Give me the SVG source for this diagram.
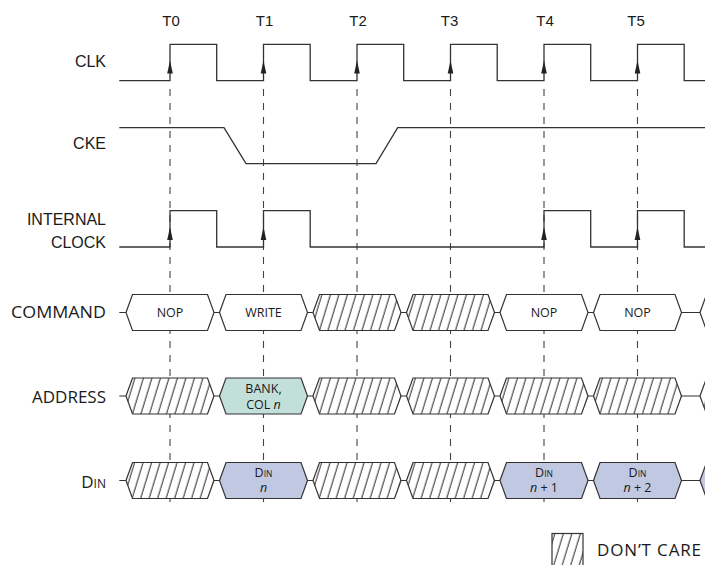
<svg xmlns="http://www.w3.org/2000/svg" width="705" height="565" viewBox="0 0 705 565">
<style>
.wave{fill:none;stroke:#333;stroke-width:1.3}
.arr{fill:#222}
.dash{stroke:#444;stroke-width:1.1;stroke-dasharray:7 7;fill:none}
.bus{stroke:#333;stroke-width:1.2;fill:none}
.box{stroke:#333;stroke-width:1.2}
.w{fill:#fff}
.h{fill:url(#hatch)}
.teal{fill:#c3dfda}
.blue{fill:#c0c8e2}
.lbl{font-family:"Liberation Sans",Arial,sans-serif;font-size:16px;fill:#1a1a1a}
.tl{font-family:"Liberation Sans",Arial,sans-serif;font-size:15px;fill:#1a1a1a;text-anchor:middle}
.hl{font-family:"Open Sans","Noto Sans",sans-serif;font-size:17px;fill:#1a1a1a}
.bt{font-family:"Open Sans","Noto Sans",sans-serif;font-size:12.5px;fill:#1a1a1a;text-anchor:middle}
</style>
<defs>
<pattern id="hatch" patternUnits="userSpaceOnUse" width="8.5" height="40" patternTransform="skewX(-17)">
<rect width="8.5" height="40" fill="#fff"/>
<line x1="4" y1="-1" x2="4" y2="41" stroke="#333" stroke-width="1.1"/>
</pattern>
</defs>
<rect width="705" height="565" fill="#fff"/>

<g id="time-labels">
<text class="tl" x="171" y="25.5">T0</text>
<text class="tl" x="264.5" y="25.5">T1</text>
<text class="tl" x="358" y="25.5">T2</text>
<text class="tl" x="449.5" y="25.5">T3</text>
<text class="tl" x="545" y="25.5">T4</text>
<text class="tl" x="636" y="25.5">T5</text>
</g>

<g id="connectors">
<line class="dash" x1="170" y1="89" x2="170" y2="507"/>
<line class="dash" x1="263.5" y1="89" x2="263.5" y2="507"/>
<line class="dash" x1="357" y1="89" x2="357" y2="507"/>
<line class="dash" x1="450.5" y1="89" x2="450.5" y2="507"/>
<line class="dash" x1="544" y1="89" x2="544" y2="507"/>
<line class="dash" x1="637.5" y1="89" x2="637.5" y2="507"/>
</g>

<g id="clk">
<text class="lbl" x="106" y="67" text-anchor="end">CLK</text>
<path class="wave" d="M119.3 80.7H170V44.3H216.7V80.7H263.5V44.3H310.2V80.7H357V44.3H403.7V80.7H450.5V44.3H497.2V80.7H544V44.3H590.7V80.7H637.5V44.3H684.2V80.7H705"/>
<polygon class="arr" points="170,60.5 167.2,73.5 172.8,73.5"/>
<polygon class="arr" points="263.5,60.5 260.7,73.5 266.3,73.5"/>
<polygon class="arr" points="357,60.5 354.2,73.5 359.8,73.5"/>
<polygon class="arr" points="450.5,60.5 447.7,73.5 453.3,73.5"/>
<polygon class="arr" points="544,60.5 541.2,73.5 546.8,73.5"/>
<polygon class="arr" points="637.5,60.5 634.7,73.5 640.3,73.5"/>
</g>

<g id="cke">
<text class="lbl" x="106" y="148.5" text-anchor="end">CKE</text>
<path class="wave" d="M119.3 127.7H224L246 163.7H376L397.7 127.7H705"/>
</g>

<g id="internal-clock">
<text class="lbl" x="106" y="225" text-anchor="end">INTERNAL</text>
<text class="lbl" x="106" y="247.5" text-anchor="end">CLOCK</text>
<path class="wave" d="M119.3 247H170V210.7H216.7V247H263.5V210.7H310.2V247H544V210.7H590.7V247H637.5V210.7H684.2V247H705"/>
<polygon class="arr" points="170,227 167.2,240 172.8,240"/>
<polygon class="arr" points="263.5,227 260.7,240 266.3,240"/>
<polygon class="arr" points="544,227 541.2,240 546.8,240"/>
<polygon class="arr" points="637.5,227 634.7,240 640.3,240"/>
</g>

<g id="command">
<text class="hl" x="106" y="318" text-anchor="end" textLength="95" lengthAdjust="spacingAndGlyphs">COMMAND</text>
<line class="bus" x1="119.3" y1="312.5" x2="705" y2="312.5"/>
<g id="cmd-t0"><polygon class="box w" points="126,312.5 132.5,294.5 207.5,294.5 214,312.5 207.5,330.5 132.5,330.5"/><text class="bt" x="170" y="317">NOP</text></g>
<g id="cmd-t1"><polygon class="box w" points="219.5,312.5 226,294.5 301,294.5 307.5,312.5 301,330.5 226,330.5"/><text class="bt" x="263.5" y="317">WRITE</text></g>
<g id="cmd-t2"><polygon class="box h" points="313,312.5 319.5,294.5 394.5,294.5 401,312.5 394.5,330.5 319.5,330.5"/></g>
<g id="cmd-t3"><polygon class="box h" points="406.5,312.5 413,294.5 488,294.5 494.5,312.5 488,330.5 413,330.5"/></g>
<g id="cmd-t4"><polygon class="box w" points="500,312.5 506.5,294.5 581.5,294.5 588,312.5 581.5,330.5 506.5,330.5"/><text class="bt" x="544" y="317">NOP</text></g>
<g id="cmd-t5"><polygon class="box w" points="593.5,312.5 600,294.5 675,294.5 681.5,312.5 675,330.5 600,330.5"/><text class="bt" x="637.5" y="317">NOP</text></g>
<g id="cmd-t6"><polygon class="box w" points="700,312.5 706.5,294.5 720,294.5 720,330.5 706.5,330.5"/></g>
</g>

<g id="address">
<text class="hl" x="106" y="403" text-anchor="end">ADDRESS</text>
<line class="bus" x1="119.3" y1="396" x2="705" y2="396"/>
<g id="addr-t0"><polygon class="box h" points="126,396 132.5,378 207.5,378 214,396 207.5,414 132.5,414"/></g>
<g id="addr-t1"><polygon class="box teal" points="219.5,396 226,378 301,378 307.5,396 301,414 226,414"/><text class="bt" x="263.5" y="392.5">BANK,</text><text class="bt" x="263.5" y="409">COL <tspan font-style="italic">n</tspan></text></g>
<g id="addr-t2"><polygon class="box h" points="313,396 319.5,378 394.5,378 401,396 394.5,414 319.5,414"/></g>
<g id="addr-t3"><polygon class="box h" points="406.5,396 413,378 488,378 494.5,396 488,414 413,414"/></g>
<g id="addr-t4"><polygon class="box h" points="500,396 506.5,378 581.5,378 588,396 581.5,414 506.5,414"/></g>
<g id="addr-t5"><polygon class="box h" points="593.5,396 600,378 675,378 681.5,396 675,414 600,414"/></g>
<g id="addr-t6"><polygon class="box h" points="700,396 706.5,378 720,378 720,414 706.5,414"/></g>
</g>

<g id="din">
<text class="hl" x="106" y="487.5" text-anchor="end">D<tspan font-size="12">IN</tspan></text>
<line class="bus" x1="119.3" y1="480.5" x2="705" y2="480.5"/>
<g id="din-t0"><polygon class="box h" points="126,480.5 132.5,462.5 207.5,462.5 214,480.5 207.5,498.5 132.5,498.5"/></g>
<g id="din-t1"><polygon class="box blue" points="219.5,480.5 226,462.5 301,462.5 307.5,480.5 301,498.5 226,498.5"/><text class="bt" x="263.5" y="476.5" font-size="11">D<tspan font-size="8.5">IN</tspan></text><text class="bt" x="263.5" y="492" font-size="13" font-style="italic">n</text></g>
<g id="din-t2"><polygon class="box h" points="313,480.5 319.5,462.5 394.5,462.5 401,480.5 394.5,498.5 319.5,498.5"/></g>
<g id="din-t3"><polygon class="box h" points="406.5,480.5 413,462.5 488,462.5 494.5,480.5 488,498.5 413,498.5"/></g>
<g id="din-t4"><polygon class="box blue" points="500,480.5 506.5,462.5 581.5,462.5 588,480.5 581.5,498.5 506.5,498.5"/><text class="bt" x="544" y="476.5" font-size="11">D<tspan font-size="8.5">IN</tspan></text><text class="bt" x="544" y="492" font-size="13"><tspan font-style="italic">n</tspan> + 1</text></g>
<g id="din-t5"><polygon class="box blue" points="593.5,480.5 600,462.5 675,462.5 681.5,480.5 675,498.5 600,498.5"/><text class="bt" x="637.5" y="476.5" font-size="11">D<tspan font-size="8.5">IN</tspan></text><text class="bt" x="637.5" y="492" font-size="13"><tspan font-style="italic">n</tspan> + 2</text></g>
<g id="din-t6"><polygon class="box blue" points="700,480.5 706.5,462.5 720,462.5 720,498.5 706.5,498.5"/></g>
</g>

<g id="legend">
<rect class="box h" x="552" y="533.5" width="31" height="33"/>
<text class="hl" x="597" y="556" font-size="18.5" textLength="104" lengthAdjust="spacing">DON’T CARE</text>
</g>
</svg>
